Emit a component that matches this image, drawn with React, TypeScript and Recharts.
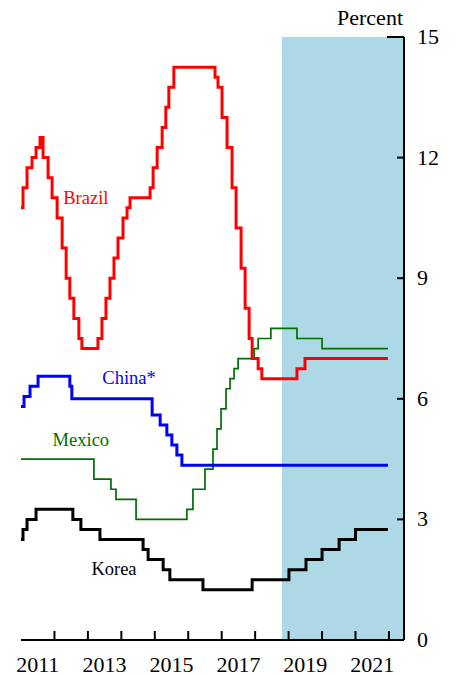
import React from 'react';
import { LineChart, Line, XAxis, YAxis, ReferenceArea, ReferenceDot } from 'recharts';

// ---- data (dates in fractional years, policy rates in percent) ----
const brazilDates = [2011.0, 2011.06, 2011.18, 2011.33, 2011.45, 2011.57, 2011.66, 2011.81, 2011.93, 2012.08, 2012.23, 2012.35, 2012.46, 2012.58, 2012.73, 2012.82, 2013.30, 2013.42, 2013.54, 2013.66, 2013.78, 2013.90, 2014.05, 2014.17, 2014.26, 2014.86, 2014.95, 2015.07, 2015.22, 2015.33, 2015.42, 2015.57, 2016.80, 2016.89, 2017.01, 2017.16, 2017.31, 2017.43, 2017.58, 2017.70, 2017.82, 2017.91, 2018.09, 2018.20, 2019.25, 2019.49, 2021.97];
const brazilRates = [10.75, 11.25, 11.75, 12.0, 12.25, 12.5, 12.0, 11.5, 11.0, 10.5, 9.75, 9.0, 8.5, 8.0, 7.5, 7.25, 7.5, 8.0, 8.5, 9.0, 9.5, 10.0, 10.5, 10.75, 11.0, 11.25, 11.75, 12.25, 12.75, 13.25, 13.75, 14.25, 14.0, 13.75, 13.0, 12.25, 11.25, 10.25, 9.25, 8.25, 7.5, 7.0, 6.75, 6.5, 6.75, 7.0, 7.0];

const chinaDates = [2011.0, 2011.09, 2011.27, 2011.51, 2012.46, 2012.52, 2014.92, 2015.16, 2015.36, 2015.51, 2015.66, 2015.81, 2021.97];
const chinaRates = [5.81, 6.06, 6.31, 6.56, 6.31, 6.0, 5.6, 5.35, 5.1, 4.85, 4.6, 4.35, 4.35];

const mexicoDates = [2011.0, 2013.18, 2013.69, 2013.84, 2014.44, 2015.96, 2016.14, 2016.50, 2016.74, 2016.86, 2016.98, 2017.13, 2017.25, 2017.37, 2017.49, 2017.97, 2018.09, 2018.47, 2019.25, 2020.0, 2021.97];
const mexicoRates = [4.5, 4.0, 3.75, 3.5, 3.0, 3.25, 3.75, 4.25, 4.75, 5.25, 5.75, 6.25, 6.5, 6.75, 7.0, 7.25, 7.5, 7.75, 7.5, 7.25, 7.25];

const koreaDates = [2011.0, 2011.06, 2011.18, 2011.45, 2012.55, 2012.79, 2013.36, 2014.65, 2014.80, 2015.25, 2015.45, 2016.44, 2017.91, 2019.01, 2019.52, 2020.0, 2020.51, 2021.0, 2021.97];
const koreaRates = [2.5, 2.75, 3.0, 3.25, 3.0, 2.75, 2.5, 2.25, 2.0, 1.75, 1.5, 1.25, 1.5, 1.75, 2.0, 2.25, 2.5, 2.75, 2.75];

const yTicks = [0, 3, 6, 9, 12, 15];
const xTickYears = [2012, 2013, 2014, 2015, 2016, 2017, 2018, 2019, 2020, 2021, 2022];
const xLabelYears = [2011, 2013, 2015, 2017, 2019, 2021];
const xMin = 2011;
const xMax = 2022.45;
const shadeStart = 2018.8;

const seriesLabels = [
  { text: 'Brazil', x: 2012.94, y: 11.0, color: '#ff0000' },
  { text: 'China*', x: 2014.23, y: 6.52, color: '#0000ff' },
  { text: 'Mexico', x: 2012.79, y: 5.0, color: '#006e00' },
  { text: 'Korea', x: 2013.78, y: 1.77, color: '#000000' },
];

const toPoints = (d: number[], v: number[]) => d.map((t, i) => ({ t, v: v[i] }));

const FONT = '"Liberation Serif", "Times New Roman", serif';

const RightTick = (props: any) => {
  const { x, y, payload } = props;
  const ax = x - 13;
  const len = payload.value === 15 ? 17 : 7;
  return (
    <g>
      <line x1={ax - len} x2={ax} y1={y} y2={y} stroke="#000" strokeWidth={2} />
      <text x={x} y={y + 7} fontSize={22} fontFamily={FONT} fill="#000" textAnchor="start">
        {payload.value}
      </text>
    </g>
  );
};

const LeftTick = (props: any) => {
  const { x, y, payload } = props;
  const len = payload.value === 15 ? 20 : 10;
  return <line x1={x} x2={x + len} y1={y} y2={y} stroke="#000" strokeWidth={2} />;
};

const XTick = (props: any) => {
  const { x, y, payload } = props;
  const val = payload.value;
  if (Number.isInteger(val)) {
    return <line x1={x} x2={x} y1={y} y2={y - 9} stroke="#000" strokeWidth={2} />;
  }
  return (
    <text x={x} y={y + 32} fontSize={22} fontFamily={FONT} fill="#000" textAnchor="middle">
      {Math.floor(val)}
    </text>
  );
};

const xTicks = [...xTickYears, ...xLabelYears.map((yr) => yr + 0.5)].sort((a, b) => a - b);

export default function App() {
  return (
    <div style={{ position: 'absolute', left: 0, top: 0, width: 458, height: 675, background: '#fff' }}>
      <div
        style={{
          position: 'absolute',
          right: 55,
          top: 7,
          fontFamily: FONT,
          fontSize: 22,
          lineHeight: '22px',
          color: '#000',
          whiteSpace: 'nowrap',
        }}
      >
        Percent
      </div>
      <LineChart width={458} height={675} margin={{ top: 37, right: 0, bottom: 0, left: 21 }}>
        <XAxis
          dataKey="t"
          type="number"
          domain={[xMin, xMax]}
          allowDataOverflow
          ticks={xTicks}
          interval={0}
          height={35}
          tickLine={false}
          tickSize={0}
          tickMargin={0}
          axisLine={{ stroke: '#000', strokeWidth: 2 }}
          tick={<XTick />}
        />
        <YAxis
          yAxisId="l"
          orientation="left"
          type="number"
          domain={[0, 15]}
          ticks={yTicks}
          interval={0}
          width={0}
          tickLine={false}
          tickSize={0}
          tickMargin={0}
          axisLine={{ stroke: '#000', strokeWidth: 2 }}
          tick={<LeftTick />}
        />
        <YAxis
          yAxisId="r"
          orientation="right"
          type="number"
          domain={[0, 15]}
          ticks={yTicks}
          interval={0}
          width={54}
          tickLine={false}
          tickSize={0}
          tickMargin={13}
          axisLine={{ stroke: '#000', strokeWidth: 2 }}
          tick={<RightTick />}
        />
        <ReferenceArea
          yAxisId="r"
          x1={shadeStart}
          x2={xMax}
          y1={0}
          y2={15}
          fill="#add8e6"
          fillOpacity={1}
          stroke="none"
        />
        <Line data={toPoints(mexicoDates, mexicoRates)} dataKey="v" yAxisId="r" type="stepAfter" stroke="#006e00" strokeWidth={1.7} dot={false} isAnimationActive={false} />
        <Line data={toPoints(koreaDates, koreaRates)} dataKey="v" yAxisId="r" type="stepAfter" stroke="#000000" strokeWidth={3} dot={false} isAnimationActive={false} />
        <Line data={toPoints(chinaDates, chinaRates)} dataKey="v" yAxisId="r" type="stepAfter" stroke="#0000ff" strokeWidth={3} dot={false} isAnimationActive={false} />
        <Line data={toPoints(brazilDates, brazilRates)} dataKey="v" yAxisId="r" type="stepAfter" stroke="#ff0000" strokeWidth={3} dot={false} isAnimationActive={false} />
        {seriesLabels.map((s) => (
          <ReferenceDot
            key={s.text}
            yAxisId="r"
            x={s.x}
            y={s.y}
            r={0}
            fill="none"
            stroke="none"
            label={{ value: s.text, position: 'center', fill: s.color, fontSize: 18.5, fontFamily: FONT }}
          />
        ))}
      </LineChart>
    </div>
  );
}
